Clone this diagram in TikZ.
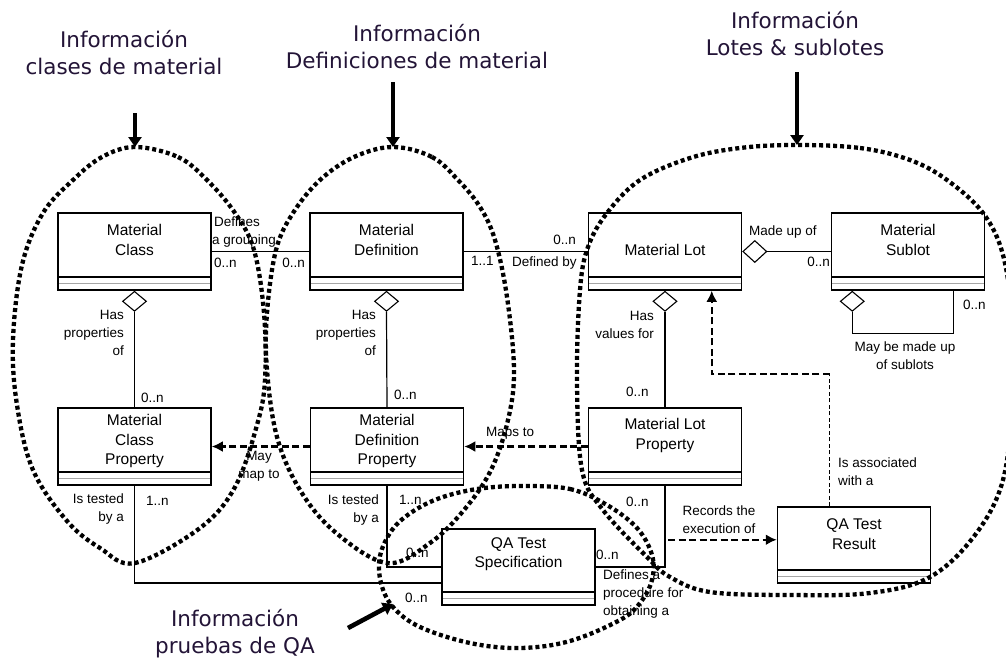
\documentclass[tikz,border=0pt]{standalone}
\usepackage{fontspec}
\setmainfont{Liberation Sans}
\newfontfamily\ttlfont{DejaVu Sans}
\usetikzlibrary{arrows.meta,shapes.geometric,calc}
\definecolor{titlecol}{RGB}{35,20,55}
\begin{document}
\begin{tikzpicture}[x=1pt,y=-1pt,
  cls/.style={draw, line width=1.5pt, minimum width=153pt, minimum height=77pt,
    inner sep=0pt, fill=white,
    path picture={
      \draw[line width=1.4pt] ([yshift=13pt]path picture bounding box.south west) -- ([yshift=13pt]path picture bounding box.south east);
      \draw[black!35, line width=0.9pt] ([yshift=7pt]path picture bounding box.south west) -- ([yshift=7pt]path picture bounding box.south east);
    }},
  ctext/.style={font=\fontsize{15.5}{19.5}\selectfont, align=center, inner sep=0pt},
  lbl/.style={font=\fontsize{13.5}{18}\selectfont, inner sep=0pt},
  assoc/.style={line width=1.2pt},
  dep/.style={line width=2.4pt, dash pattern=on 7pt off 3.5pt, -{Latex[length=11pt,width=11pt]}},
  depthin/.style={line width=1pt, dash pattern=on 4pt off 2.5pt},
  aggv/.style={draw, diamond, line width=1.1pt, fill=white, inner sep=0pt, minimum width=24pt, minimum height=20pt},
  aggh/.style={draw, diamond, line width=1.1pt, fill=white, inner sep=0pt, minimum width=24pt, minimum height=22pt},
  grp/.style={line width=4.3pt, dash pattern=on 4pt off 3pt},
  ttl/.style={font=\ttlfont\fontsize{21.5}{27}\selectfont, align=center, text=titlecol, inner sep=0pt},
  pointer/.style={line width=4.6pt, -{Triangle[length=10pt,width=13pt]}}
]
\fill[white] (0,0) rectangle (1006,662);
\useasboundingbox (0,0) rectangle (1006,662);

% ---- classes ----
\node[cls] (mc)  at (134.5,251.5) {};
\node[cls] (md)  at (386.5,251.5) {};
\node[cls] (ml)  at (665,251.5) {};
\node[cls] (ms)  at (908,251.5) {};
\node[cls] (mcp) at (134.5,446.5) {};
\node[cls] (mdp) at (387,446.5) {};
\node[cls] (mlp) at (665,446.5) {};
\node[cls, minimum height=76pt] (qas) at (518.5,567) {};
\node[cls, minimum height=76pt] (qar) at (854,545) {};

\node[ctext] (mc-t)  at (134.5,240) {Material\\Class};
\node[ctext] (md-t)  at (386.5,240) {Material\\Definition};
\node[ctext] (ml-t)  at (665,250) {Material Lot};
\node[ctext] (ms-t)  at (908,240) {Material\\Sublot};
\node[ctext] (mcp-t) at (134.5,441) {Material\\Class\\Property};
\node[ctext] (mdp-t) at (387,441) {Material\\Definition\\Property};
\node[ctext] (mlp-t) at (665,435.5) {Material Lot\\Property};
\node[ctext] (qas-t) at (518.5,554) {QA Test\\Specification};
\node[ctext] (qar-t) at (854,534) {QA Test\\Result};

% ---- aggregation diamonds ----
\node[aggv, anchor=north] (mc-d)  at (mc.south) {};
\node[aggv, anchor=north] (md-d)  at (md.south) {};
\node[aggv, anchor=north] (mlb-d) at (ml.south) {};
\node[aggh, anchor=west]  (mlr-d) at (ml.east) {};
\node[aggv, anchor=north] (ms-d)  at ($(ms.south west)+(21.5,0)$) {};

% ---- associations ----
\draw[assoc] (mc.east) -- (md.west);
\draw[assoc] (md.east) -- (ml.west);
\draw[assoc] (mlr-d.east) -- (ms.west);
\draw[assoc] (ms-d.south) -- ++(0,22) -| ($(ms.south east)+(-32,0)$);
\draw[assoc] (mc-d.south) -- (mcp.north);
\draw[assoc] (md-d.south) -- (mdp.north);
\draw[assoc] (mlb-d.south) -- (mlp.north);
\draw[assoc] (mcp.south) |- ($(qas.west)+(0,16)$);
\draw[assoc] (mdp.south) |- (qas.west);
\draw[assoc] (mlp.south) |- (qas.east);

% ---- dependencies ----
\draw[dep] (mlp.west) -- (mdp.east);
\draw[dep] (mdp.west) -- (mcp.east);
\path (mlp.south) ++(3,54) coordinate (rec);
\draw[dep] (rec) -- (rec -| qar.west);
\coordinate (asc) at ($(qar.north west)+(53,0)$);
\coordinate (asc-turn) at ($(asc)+(0,-132)$);
\draw[depthin] (asc) -- (asc-turn);
\draw[dep] (asc-turn) -| ($(ml.south west)+(124,0)$);

% ---- labels ----
\node[lbl,anchor=west] (l-defines) at (214,222) {Defines};
\node[lbl,anchor=west] (l-grouping) at (212,241) {a grouping};
\node[lbl,anchor=west] (m-mc1) at (214,263) {0..n};
\node[lbl,anchor=east] (m-md1) at (305,263) {0..n};
\node[lbl,anchor=west] (m-md2) at (471,261) {1..1};
\node[lbl,anchor=east] (m-ml1) at (576,240) {0..n};
\node[lbl,anchor=west] (l-definedby) at (512,263) {Defined by};
\node[lbl,anchor=west] (l-madeup) at (749,232) {Made up of};
\node[lbl,anchor=east] (m-ms1) at (830,262) {0..n};
\node[lbl,anchor=west] (m-ms2) at (963,305) {0..n};
\node[lbl,align=center] (l-sublots) at (905,356) {May be made up\\of sublots};

\node[lbl,anchor=east,align=right] (l-hasprop1) at (124,333) {Has\\properties\\of};
\node[lbl,anchor=east,align=right] (l-hasprop2) at (376,333) {Has\\properties\\of};
\node[lbl,anchor=east,align=right] (l-hasval) at (654,325) {Has\\values for};
\node[lbl,anchor=west] (m-mcp1) at (141,398) {0..n};
\node[lbl,anchor=west] (m-mdp1) at (394,395) {0..n};
\node[lbl,anchor=west] (m-mlp1) at (626,392) {0..n};

\node[lbl,anchor=west] (l-maps) at (486,433) {Maps to};
\node[lbl,align=center] (l-maymap) at (259,466) {May\\map to};
\node[lbl,anchor=east,align=right] (l-tested1) at (124,509) {Is tested\\by a};
\node[lbl,anchor=west] (m-mcp2) at (146,501) {1..n};
\node[lbl,anchor=east,align=right] (l-tested2) at (379,510) {Is tested\\by a};
\node[lbl,anchor=west] (m-mdp2) at (399,500) {1..n};
\node[lbl,anchor=west] (m-qas1) at (406,553) {0..n};
\node[lbl,anchor=west] (m-qas2) at (405,598) {0..n};
\node[lbl,anchor=west] (m-mlp2) at (626,502) {0..n};
\node[lbl,anchor=west] (m-qas3) at (596,555) {0..n};
\node[lbl,anchor=west,align=left] (l-procedure) at (603,594) {Defines a\\procedure for\\obtaining a};
\node[lbl,align=center] (l-records) at (719,520) {Records the\\execution of};
\node[lbl,anchor=west,align=left] (l-assoc) at (838,472) {Is associated\\with a};

% ---- dotted groupings ----
\draw[grp] plot[smooth cycle, tension=0.6] coordinates {
  (135,147) (178,157) (207,180) (235,213) (254,250) (264,313) (265,380) (257,425)
  (235,487) (200,528) (135,563) (100,548) (67,521) (33,470) (17,405) (13,340)
  (22,265) (43,213) (73,180) (102,157)};
\draw[grp] plot[smooth cycle, tension=0.6] coordinates {
  (393,147) (432,157) (458,180) (480,207) (495,240) (507,297) (514,370) (508,420)
  (491,470) (464,510) (430,543) (387,563) (335,532) (300,490) (277,437) (267,370)
  (267,313) (276,250) (293,213) (320,180) (354,157)};
\draw[grp] plot[smooth cycle, tension=0.6] coordinates {
  (795,145) (860,148) (910,160) (947,180) (983,213) (1003,255) (1012,320) (1012,400)
  (1003,480) (975,535) (930,577) (870,593) (790,595) (710,592) (670,577) (647,557)
  (603,510) (582,470) (577,380) (580,290) (588,247) (607,213) (640,180) (690,158) (740,148)};
\draw[grp] plot[smooth cycle, tension=0.6] coordinates {
  (520,486) (570,489) (607,505) (637,528) (652,555) (652,580) (640,603) (620,620)
  (570,641) (520,648) (470,643) (420,627) (393,607) (381,583) (380,556) (392,530)
  (412,512) (440,498) (477,489)};

% ---- titles and pointers ----
\node[ttl] (t-class) at (124,53) {Información\\clases de material};
\node[ttl] (t-def)   at (417,47) {Información\\Definiciones de material};
\node[ttl] (t-lot)   at (795,34) {Información\\Lotes \& sublotes};
\node[ttl] (t-qa)    at (235,634) {Información\\pruebas de QA};

\coordinate (pa-start) at (135,113);  \coordinate (pa-end) at (135,147);
\coordinate (pb-start) at (393,82);   \coordinate (pb-end) at (393,147);
\coordinate (pc-start) at (797,72);   \coordinate (pc-end) at (797,145);
\coordinate (pd-start) at (348,628);  \coordinate (pd-end) at (393,604);
\draw[pointer] (pa-start) -- (pa-end);
\draw[pointer] (pb-start) -- (pb-end);
\draw[pointer] (pc-start) -- (pc-end);
\draw[pointer] (pd-start) -- (pd-end);
\end{tikzpicture}
\end{document}
